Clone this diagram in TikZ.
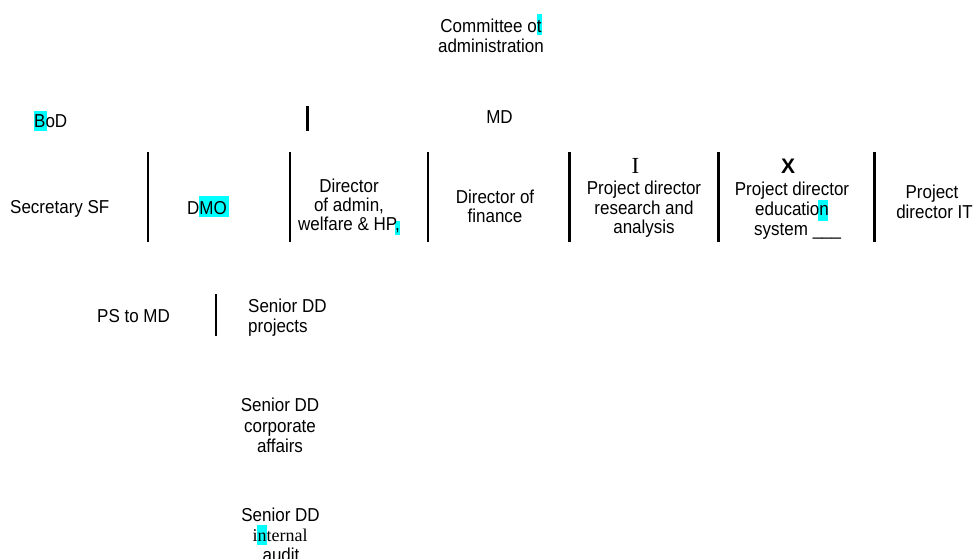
\documentclass[tikz,border=0pt]{standalone}
\usepackage{fontspec}
\setmainfont{Liberation Sans}
\newfontfamily\serifx{Liberation Serif}
\definecolor{hl}{HTML}{00FFFF}
\newcommand{\stretchtxt}[1]{\scalebox{1}[1.1]{#1}}
\tikzset{
  txt/.style={inner sep=0pt, anchor=base, font=\fontsize{17}{19.5}\selectfont},
  txtl/.style={txt, anchor=base west},
  bar/.style={line width=2.6pt, draw=black}
}
\begin{document}
\begin{tikzpicture}[x=1pt,y=-1pt]
\useasboundingbox (0,0) rectangle (973,558);
% highlights
\fill[hl] (537,14) rectangle (542,35);
\fill[hl] (34,111) rectangle (47,131);
\fill[hl] (199,196) rectangle (229,217);
\fill[hl] (395,221) rectangle (400,235);
\fill[hl] (818,200) rectangle (828,221);
\fill[hl] (257,525) rectangle (267,545);
% bars
\coordinate (b0t) at (307.5,106); \coordinate (b0b) at (307.5,131);
\draw[bar] (b0t) -- (b0b);
\foreach \x/\n in {148/b1,290/b2,428/b3,569.5/b4,718.5/b5,874.5/b6}{
  \coordinate (\n t) at (\x,152); \coordinate (\n b) at (\x,242);
  \draw[bar] (\n t) -- (\n b);
}
\coordinate (b7t) at (216,294); \coordinate (b7b) at (216,336);
\draw[bar] (b7t) -- (b7b);
% texts
\node[txt] (coa1) at (491,32) {\stretchtxt{Committee ot}};
\node[txt] (coa2) at (491,52) {\stretchtxt{administration}};
\node[txtl] (bod) at (34,127) {\stretchtxt{BoD}};
\node[txt] (md) at (499.5,123) {\stretchtxt{MD}};
\node[txtl] (sec) at (10,213) {\stretchtxt{Secretary SF}};
\node[txt] (dmo) at (207,214) {\stretchtxt{DMO}};
\node[txt] (dad1) at (349,192) {\stretchtxt{Director}};
\node[txt] (dad2) at (349,211) {\stretchtxt{of admin,}};
\node[txt] (dad3) at (349,230) {\stretchtxt{welfare \& HP,}};
\node[txt] (dfi1) at (495,203) {\stretchtxt{Director of}};
\node[txt] (dfi2) at (495,222) {\stretchtxt{finance}};
\node[txt, font=\serifx\fontsize{23}{26}\selectfont] (ii) at (635.5,173) {I};
\node[txt] (pra1) at (644,194) {\stretchtxt{Project director}};
\node[txt] (pra2) at (644,214) {\stretchtxt{research and}};
\node[txt] (pra3) at (644,233) {\stretchtxt{analysis}};
\node[txt, font=\bfseries\fontsize{21}{24}\selectfont] (xx) at (788,173) {X};
\node[txt] (ped1) at (792,195) {\stretchtxt{Project director}};
\node[txt] (ped2) at (792,215) {\stretchtxt{education}};
\node[txtl] (ped3) at (754,235) {\stretchtxt{system \_\_\_}};
\node[txt] (pit1) at (932,198) {\stretchtxt{Project}};
\node[txt] (pit2) at (934.5,218) {\stretchtxt{director IT}};
\node[txtl] (ps) at (97,322) {\stretchtxt{PS to MD}};
\node[txtl] (sdp1) at (248,312) {\stretchtxt{Senior DD}};
\node[txtl] (sdp2) at (248,332) {\stretchtxt{projects}};
\node[txt] (sdc1) at (280,411) {\stretchtxt{Senior DD}};
\node[txt] (sdc2) at (280,432) {\stretchtxt{corporate}};
\node[txt] (sdc3) at (280,452) {\stretchtxt{affairs}};
\node[txt] (sdi1) at (280.5,521) {\stretchtxt{Senior DD}};
\node[txt, font=\serifx\fontsize{18}{20}\selectfont] (sdi2) at (280,541) {internal};
\node[txt] (sdi3) at (281,561) {\stretchtxt{audit}};
\end{tikzpicture}
\end{document}
